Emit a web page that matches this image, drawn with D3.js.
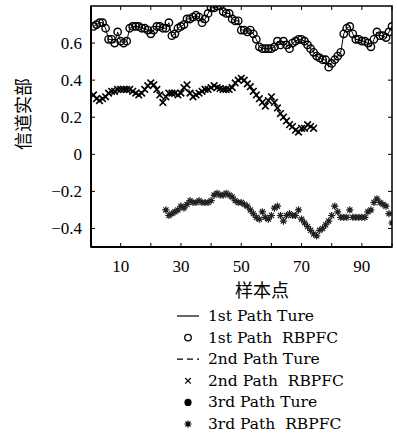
<!DOCTYPE html>
<html><head><meta charset="utf-8">
<script src="https://cdn.jsdelivr.net/npm/d3@7"></script>
<style>body{margin:0;background:#fff}text{fill:#000}</style>
</head><body><svg id="c" width="397" height="437"></svg>
<script>
// ---- data ----
const sampleIdx = d3.range(1, 101);
const path1Est = [0.69,0.70,0.71,0.71,0.68,0.62,0.62,0.60,0.66,0.61,
  0.60,0.61,0.68,0.69,0.69,0.69,0.68,0.68,0.67,0.65,
  0.67,0.69,0.69,0.68,0.68,0.71,0.64,0.65,0.68,0.69,
  0.70,0.73,0.73,0.74,0.75,0.74,0.71,0.73,0.76,0.79,
  0.79,0.80,0.80,0.77,0.76,0.76,0.73,0.72,0.72,0.67,
  0.67,0.66,0.67,0.65,0.62,0.58,0.57,0.57,0.57,0.57,
  0.58,0.61,0.59,0.61,0.59,0.57,0.60,0.61,0.62,0.62,
  0.61,0.59,0.57,0.55,0.53,0.52,0.51,0.51,0.47,0.49,
  0.51,0.53,0.55,0.65,0.68,0.69,0.65,0.62,0.62,0.61,
  0.61,0.60,0.58,0.62,0.66,0.64,0.64,0.63,0.66,0.69];
const path1True = path1Est;
const path2Idx = d3.range(1, 75);
const path2Est = [0.32,0.30,0.29,0.30,0.31,0.33,0.34,0.34,0.35,0.35,
  0.35,0.35,0.35,0.34,0.33,0.32,0.33,0.35,0.37,0.385,
  0.375,0.35,0.32,0.28,0.31,0.33,0.33,0.33,0.32,0.33,
  0.36,0.375,0.33,0.31,0.32,0.33,0.34,0.35,0.35,0.36,
  0.37,0.36,0.355,0.35,0.35,0.35,0.36,0.385,0.40,0.41,
  0.40,0.38,0.365,0.34,0.32,0.30,0.28,0.26,0.29,0.31,
  0.28,0.25,0.22,0.20,0.18,0.16,0.15,0.13,0.12,0.14,
  0.14,0.16,0.15,0.14];
const path2True = path2Est;
const path3Idx = d3.range(25, 101);
const path3Est = [-0.30,-0.33,-0.32,-0.31,-0.30,-0.28,-0.29,-0.27,-0.25,-0.26,
  -0.26,-0.25,-0.26,-0.26,-0.26,-0.25,-0.22,-0.21,-0.22,-0.22,
  -0.21,-0.22,-0.23,-0.25,-0.26,-0.26,-0.27,-0.28,-0.30,-0.32,
  -0.34,-0.35,-0.31,-0.34,-0.35,-0.33,-0.29,-0.28,-0.33,-0.36,
  -0.33,-0.32,-0.33,-0.33,-0.30,-0.35,-0.37,-0.39,-0.41,-0.43,
  -0.44,-0.41,-0.40,-0.38,-0.36,-0.33,-0.28,-0.31,-0.34,-0.34,
  -0.34,-0.30,-0.34,-0.34,-0.34,-0.34,-0.34,-0.31,-0.30,-0.26,
  -0.24,-0.26,-0.27,-0.28,-0.32,-0.37];
const path3True = path3Est;
const xTicks = [10,20,30,40,50,60,70,80,90,100];
const xTickLabels = [10,30,50,70,90];
const yTicks = [-0.4,-0.2,0,0.2,0.4,0.6];
const legendLabels = ["1st Path Ture","1st Path  RBPFC","2nd Path Ture","2nd Path  RBPFC","3rd Path Ture","3rd Path  RBPFC"];
const xLabel = "样本点", yLabel = "信道实部";

// ---- drawing ----
const svg = d3.select("#c");
const L = 91, R = 392, T = 6, B = 247;
const x = d3.scaleLinear().domain([0, 100]).range([90.5, R]);
const y = d3.scaleLinear().domain([-0.5, 0.8]).range([B, T]);
const serif = "'Liberation Serif','Times New Roman',serif";
const wideSerif = "'DejaVu Serif',serif";
const cjk = "'Noto Sans CJK SC','Noto Serif CJK SC',sans-serif";

svg.append("clipPath").attr("id","cp").append("rect")
  .attr("x",L).attr("y",T).attr("width",R-L).attr("height",B-T);
const g = svg.append("g").attr("clip-path","url(#cp)");

const line = d3.line().x(d=>x(d[0])).y(d=>y(d[1]));
const z = (a,b)=>a.map((v,i)=>[v,b[i]]);

// path 1
g.append("path").datum(z(sampleIdx,path1True)).attr("d",line)
  .attr("fill","none").attr("stroke","#000").attr("stroke-width",1);
g.selectAll("circle.p1").data(z(sampleIdx,path1Est)).join("circle")
  .attr("cx",d=>x(d[0])).attr("cy",d=>y(d[1])).attr("r",3.7)
  .attr("fill","none").attr("stroke","#000").attr("stroke-width",1.4);

// path 2
g.append("path").datum(z(path2Idx,path2True)).attr("d",line)
  .attr("fill","none").attr("stroke","#000").attr("stroke-width",1).attr("stroke-dasharray","4,3");
const cross = s => `M${-s},${-s}L${s},${s}M${-s},${s}L${s},${-s}`;
g.selectAll("path.p2").data(z(path2Idx,path2Est)).join("path")
  .attr("transform",d=>`translate(${x(d[0])},${y(d[1])})`).attr("d",cross(3.3))
  .attr("stroke","#000").attr("stroke-width",1.6).attr("fill","none");

// path 3
g.selectAll("circle.p3").data(z(path3Idx,path3True)).join("circle")
  .attr("cx",d=>x(d[0])).attr("cy",d=>y(d[1])).attr("r",1.8).attr("fill","#000");
const star = s => { let p=""; for(let k=0;k<4;k++){const a=k*Math.PI/4;const dx=s*Math.cos(a),dy=s*Math.sin(a);p+=`M${-dx},${-dy}L${dx},${dy}`;} return p; };
g.selectAll("path.p3").data(z(path3Idx,path3Est)).join("path")
  .attr("transform",d=>`translate(${x(d[0])},${y(d[1])})`).attr("d",star(3.6))
  .attr("stroke","#222").attr("stroke-width",1.2).attr("fill","none");

// frame
svg.append("rect").attr("x",L).attr("y",T).attr("width",R-L).attr("height",B-T)
  .attr("fill","none").attr("stroke","#000").attr("stroke-width",1.5);
svg.append("line").attr("x1",L).attr("x2",L).attr("y1",T).attr("y2",B).attr("stroke","#000").attr("stroke-width",2);
svg.append("line").attr("x1",L).attr("x2",R).attr("y1",B).attr("y2",B).attr("stroke","#000").attr("stroke-width",2);

// ticks (inward, both sides)
const tk = 4;
xTicks.forEach(t=>{
  svg.append("line").attr("x1",x(t)).attr("x2",x(t)).attr("y1",B).attr("y2",B-tk).attr("stroke","#000").attr("stroke-width",1);
  svg.append("line").attr("x1",x(t)).attr("x2",x(t)).attr("y1",T).attr("y2",T+tk).attr("stroke","#000").attr("stroke-width",1);
});
yTicks.forEach(t=>{
  svg.append("line").attr("x1",L).attr("x2",L+tk).attr("y1",y(t)).attr("y2",y(t)).attr("stroke","#000").attr("stroke-width",1);
  svg.append("line").attr("x1",R).attr("x2",R-tk).attr("y1",y(t)).attr("y2",y(t)).attr("stroke","#000").attr("stroke-width",1);
});
svg.append("g").selectAll("text").data(xTickLabels).join("text")
  .attr("x",d=>x(d)).attr("y",272).attr("text-anchor","middle")
  .style("font-family",serif).style("font-size","17px").text(d=>d);
const fmtY = d => d===0 ? "0" : (d<0 ? "\u2212" : "") + Math.abs(d).toFixed(1);
svg.append("g").selectAll("text").data(yTicks).join("text")
  .attr("x",82).attr("y",d=>y(d)+5.5).attr("text-anchor","end")
  .style("font-family",serif).style("font-size","17px").text(fmtY);

// axis labels
svg.append("text").attr("x",262).attr("y",297).attr("text-anchor","middle")
  .style("font-family",cjk).style("font-size","18px").text(xLabel);
svg.append("text").attr("transform","translate(30,114) rotate(-90)").attr("text-anchor","middle")
  .style("font-family",cjk).style("font-size","18px").text(yLabel);

// legend
const lg = svg.append("g");
const ly = i => 316 + i*21.6;
legendLabels.forEach((lab,i)=>{
  const yy = ly(i), cx = 188;
  if(i===0) lg.append("line").attr("x1",177).attr("x2",199).attr("y1",yy).attr("y2",yy).attr("stroke","#000").attr("stroke-width",1.2);
  if(i===1) lg.append("circle").attr("cx",cx).attr("cy",yy).attr("r",3.3).attr("fill","none").attr("stroke","#000").attr("stroke-width",1.3);
  if(i===2) lg.append("line").attr("x1",177).attr("x2",199).attr("y1",yy).attr("y2",yy).attr("stroke","#000").attr("stroke-width",1.2).attr("stroke-dasharray","6,4");
  if(i===3) lg.append("path").attr("transform",`translate(${cx},${yy})`).attr("d",cross(2.8)).attr("stroke","#000").attr("stroke-width",1.2);
  if(i===4) lg.append("circle").attr("cx",cx).attr("cy",yy).attr("r",3.6).attr("fill","#000");
  if(i===5) lg.append("path").attr("transform",`translate(${cx},${yy})`).attr("d",star(3.6)).attr("stroke","#000").attr("stroke-width",1.2);
  lg.append("text").attr("x",208).attr("y",yy+5).style("font-family",wideSerif).style("font-size","15.5px")
    .style("white-space","pre").text(lab);
});
</script></body></html>
